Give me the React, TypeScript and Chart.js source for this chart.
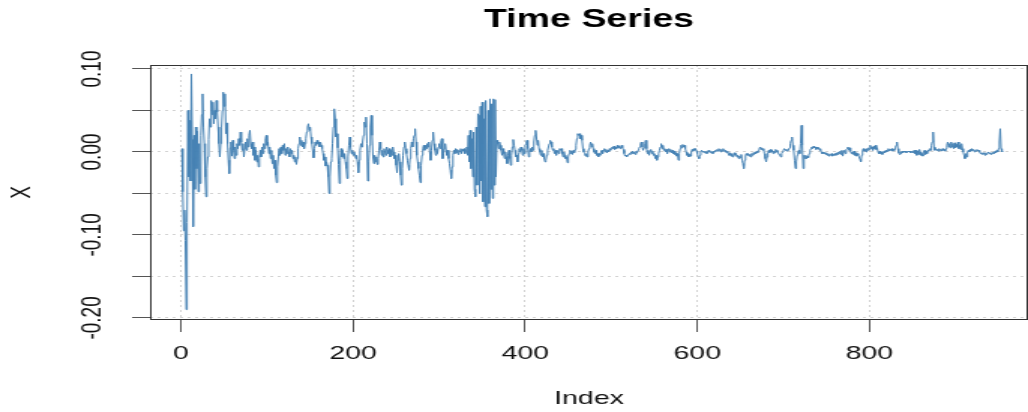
import { useEffect, useRef } from "react";
import { Chart, registerables } from "chart.js";

Chart.register(...registerables);

const chartTitle = "Time Series";
const xAxisTitle = "Index";
const yAxisTitle = "X";
const xTickValues = [0, 200, 400, 600, 800];
const yTickLabels = ["0.10", "0.00", "-0.10", "-0.20"];
const yTickLabelValues = [0.1, 0, -0.1, -0.2];

// series values, index 1..955
const seriesValues: number[] = [
  .004,-.048,-.095,-.07,-.107,-.19,-.085,.05,-.03,.038,
  -.035,.094,.015,-.09,.02,-.045,.03,-.02,.025,-.048,
  .01,-.038,.02,.045,.07,.03,.01,-.03,-.054,-.02,
  -.006,.015,.04,.03,.062,.045,.06,.034,.05,.04,
  .062,.048,.03,.01,-.006,.01,.03,.05,.072,.055,
  .07,.022,.035,.01,-.01,-.026,.005,.012,-.005,.014,
  .002,-.008,.006,-.004,.01,.004,.016,.008,.024,.012,
  .002,.01,-.006,.004,.012,.002,.016,.006,.02,.026,
  .01,.004,.012,-.004,.006,-.01,.002,-.012,-.004,-.018,
  -.008,.002,-.006,.006,-.002,.01,.004,.016,.02,.008,
  .012,-.002,.006,-.008,.002,-.014,-.004,-.02,-.01,-.028,
  -.037,-.018,-.006,.004,-.004,.006,-.002,.008,.002,.01,
  -.004,.004,-.002,.006,0,-.006,.004,-.002,.002,-.008,
  -.004,-.012,-.006,-.015,-.008,.004,.01,.018,.008,.014,
  .006,.012,.004,.01,.016,.024,.03,.034,.026,.03,
  .018,.01,.002,-.007,.004,.012,.008,.014,.01,.012,
  .006,.012,.008,.004,-.002,-.01,-.006,-.017,-.012,-.016,
  -.03,-.05,-.03,-.012,-.008,.01,.03,.052,.04,.018,
  .022,.005,-.015,-.038,-.01,.004,-.006,.002,-.008,-.002,
  -.012,-.02,-.032,-.006,.008,.018,.006,-.002,.002,-.004,
  0,-.002,-.008,-.004,-.012,-.025,-.01,.002,.01,.006,
  .012,.02,.036,.03,.042,.01,-.035,-.012,.008,.03,
  .044,.02,-.006,-.014,-.004,-.012,-.006,-.015,-.008,.002,
  .012,.004,-.004,.002,-.006,.004,0,-.004,.006,.002,
  -.002,.004,-.006,.002,-.004,.006,0,-.008,-.004,-.016,
  -.025,-.01,-.002,-.012,-.028,-.04,-.02,-.004,.006,.012,
  .004,-.002,-.01,-.016,-.022,-.008,.004,.012,.006,.016,
  .02,.028,.012,-.004,-.012,-.02,-.028,-.037,-.016,-.004,
  .004,.008,.002,.008,.004,.01,.006,.012,0,-.01,
  .002,.014,.024,.01,.002,-.004,.004,-.002,.006,.01,
  .004,.012,.016,-.008,-.002,.004,.01,.002,-.004,.002,
  -.008,-.014,-.022,-.032,-.018,-.004,.002,-.002,.004,-.001,
  .003,-.003,.002,0,.004,-.002,.003,.001,.004,-.002,
  .002,.006,-.004,.02,-.012,.026,-.02,.016,-.03,.024,
  -.045,-.054,.03,-.04,.046,.044,-.05,.055,-.035,.06,
  -.06,.04,-.066,.062,-.07,-.078,.05,-.062,.064,-.045,
  .058,-.056,.064,-.04,.063,-.03,.014,.01,.004,.012,
  .008,.002,-.004,.004,-.002,-.008,0,-.006,-.014,-.004,
  .002,-.008,-.016,-.004,.006,.015,.008,.002,-.006,-.004,
  -.012,-.002,.004,0,.006,.002,-.004,.004,-.002,.008,
  .01,.014,.004,-.006,.002,.004,0,.006,.002,.012,
  .02,.026,.018,.008,.014,.004,0,-.004,.002,-.006,
  -.002,-.008,-.012,-.01,-.004,.002,.006,.01,.014,.012,
  .006,.002,.004,-.002,.002,-.004,0,.002,-.002,.004,
  .002,.004,-.002,-.006,0,-.004,-.008,-.006,-.013,-.006,
  -.002,.002,-.002,.001,-.003,.002,-.001,.003,.008,.016,
  .022,.02,.022,.016,.02,.014,.004,0,-.002,-.005,
  -.002,-.006,0,.004,.008,.012,.006,.01,.004,0,
  -.002,.002,-.004,-.002,-.006,-.002,-.004,0,.002,-.002,
  .002,.004,0,.003,-.001,.002,0,.004,.002,.004,
  .006,.004,.007,.003,.006,.004,.008,.005,.007,.004,
  .006,.008,.005,.003,-.002,-.005,-.004,-.006,-.004,-.003,
  -.002,-.003,0,-.002,.001,-.002,0,-.003,.001,-.001,
  .002,.004,.006,.01,.012,.006,.002,.005,.01,.014,
  .004,-.002,.002,-.004,.001,.003,-.002,.001,-.004,-.002,
  -.008,-.004,-.01,-.006,-.002,.002,.006,.01,.004,.008,
  .002,.004,0,.003,-.002,.002,.004,0,.003,-.001,
  .002,-.002,.001,-.003,-.001,-.005,-.002,-.01,-.002,.004,
  .008,.005,.009,.006,.008,.004,0,-.004,-.002,-.006,
  -.003,-.005,0,.003,.001,.004,.002,.004,.001,-.002,
  -.006,-.008,-.004,0,.002,0,.001,-.001,.001,0,
  -.002,0,.002,0,-.001,.001,0,-.002,.001,0,
  .002,.001,.003,.001,.004,.002,0,.003,.001,.004,
  .002,0,.002,-.001,.001,-.002,-.004,-.001,-.005,-.002,
  -.006,-.003,-.001,-.004,-.002,-.006,-.004,-.008,-.005,-.007,
  -.003,-.01,-.014,-.02,-.01,-.004,-.002,-.004,-.002,-.005,
  -.003,-.006,-.002,-.004,-.001,-.003,0,-.002,.001,-.001,
  .002,.004,.006,.003,.005,.002,.004,-.002,-.008,-.012,
  -.006,-.001,.002,-.001,.003,0,.002,-.002,.001,-.001,
  .003,0,.002,-.001,-.003,-.004,-.006,-.002,0,.002,
  .004,.002,.003,.001,.003,.002,.005,.01,.014,.018,
  .008,.002,-.01,-.02,-.012,-.004,0,.002,-.002,.01,
  .032,.008,-.02,-.004,-.008,-.004,-.008,-.005,-.007,-.002,
  .002,.004,.006,.004,.007,.005,.006,.003,.006,.004,
  .005,.002,.004,0,-.002,0,-.002,-.001,-.003,-.001,
  -.004,-.002,-.005,-.003,-.004,-.002,-.005,-.003,-.004,-.002,
  -.004,-.001,-.003,0,-.002,.001,-.003,.002,-.005,0,
  .002,-.002,.003,.004,.006,.002,.005,.001,-.002,0,
  -.003,.001,-.004,-.001,-.005,-.002,-.004,-.006,-.009,-.012,
  -.004,.002,.004,.001,.003,0,.004,.002,.005,.003,
  .008,.004,.006,.002,.007,.004,.008,.003,.005,0,
  -.002,.001,-.002,0,-.003,-.001,.001,-.001,.002,0,
  .002,.004,.001,.003,.002,.004,.001,.003,.002,.005,
  .008,.012,.004,-.001,-.003,0,-.002,.001,-.001,.001,
  0,.001,-.001,0,.001,0,.001,-.001,0,.001,
  -.001,.002,-.002,.002,-.004,.001,-.003,.003,0,-.004,
  -.002,-.005,0,.002,-.003,.001,-.002,.002,.001,.004,
  .002,.008,.012,.024,.006,.002,.004,.002,.003,.001,
  .004,.002,.003,.001,.004,.002,.003,.001,.004,.008,
  .012,.006,.01,.005,.012,.006,.01,.004,.011,.005,
  .009,.006,.012,.004,.008,.003,.01,.004,0,-.004,
  -.008,-.002,-.006,0,.002,0,.003,.001,.004,.002,
  .003,0,.002,.001,.003,.001,.002,0,-.002,-.001,
  -.003,-.001,-.002,-.004,-.001,-.003,-.002,0,-.002,-.001,
  -.003,-.001,-.002,0,-.002,.001,-.001,.002,0,.004,
  .012,.028,.004,0,.001,
];

const FONT = '"Liberation Sans", Arial, Helvetica, sans-serif';
const CANVAS_W = 685;
const CANVAS_H = 412;

export default function App() {
  const ref = useRef<HTMLCanvasElement>(null);

  useEffect(() => {
    document.body.style.margin = "0";
    const canvas = ref.current;
    if (!canvas) return;
    const points = seriesValues.map((v, i) => ({ x: i + 1, y: v }));

    const framePlugin = {
      id: "rFrame",
      afterDraw(chart: any) {
        const { ctx, chartArea: a, scales } = chart;
        ctx.save();
        ctx.strokeStyle = "#333";
        ctx.lineWidth = 1;
        ctx.setLineDash([]);
        ctx.strokeRect(a.left + 0.5, a.top + 0.5, a.right - a.left - 1, a.bottom - a.top - 1);
        const ys = scales.y;
        ctx.fillStyle = "#111";
        ctx.font = `19px ${FONT}`;
        ctx.textAlign = "center";
        ctx.textBaseline = "alphabetic";
        yTickLabelValues.forEach((v, i) => {
          const py = ys.getPixelForValue(v);
          ctx.save();
          ctx.translate(a.left - 33.5, py);
          ctx.rotate(-Math.PI / 2);
          ctx.fillText(yTickLabels[i], 0, 0);
          ctx.restore();
        });
        ctx.restore();
      },
    };

    const chart = new Chart(canvas, {
      type: "line",
      data: {
        datasets: [
          {
            data: points,
            borderColor: "#4682b4",
            borderWidth: 1,
            pointRadius: 0,
            fill: false,
            tension: 0,
          },
        ],
      },
      options: {
        animation: false,
        responsive: false,
        devicePixelRatio: 1,
        events: [],
        layout: { padding: 0 },
        plugins: {
          legend: { display: false },
          tooltip: { enabled: false },
          title: {
            display: true,
            text: chartTitle,
            fullSize: false,
            color: "#000",
            font: { size: 25, weight: "bold", family: FONT },
            padding: { top: 5, bottom: 30 },
          },
        },
        scales: {
          x: {
            type: "linear",
            min: -36,
            max: 984.3,
            afterBuildTicks: (s: any) => {
              s.ticks = xTickValues.map((v) => ({ value: v }));
            },
            afterFit: (s: any) => {
              s.height = 92;
            },
            ticks: {
              color: "#111",
              font: { size: 19, family: FONT },
              padding: 10,
              maxRotation: 0,
              autoSkip: false,
            },
            grid: {
              color: "#d3d3d3",
              lineWidth: 1,
              drawTicks: true,
              tickLength: 12,
              tickColor: "#555",
              tickWidth: 1,
            },
            border: { display: false, dash: [2, 3] },
            title: {
              display: true,
              text: xAxisTitle,
              color: "#111",
              font: { size: 19, family: FONT },
              padding: { top: 0, bottom: 2 },
            },
          },
          y: {
            type: "linear",
            min: -0.2025,
            max: 0.1048,
            afterFit: (s: any) => {
              s.width = 100;
            },
            ticks: { display: false, stepSize: 0.05, includeBounds: false },
            grid: {
              color: "#d3d3d3",
              lineWidth: 1,
              drawTicks: true,
              tickLength: 12,
              tickColor: "#555",
              tickWidth: 1,
            },
            border: { display: false, dash: [2, 3] },
            title: {
              display: true,
              text: yAxisTitle,
              color: "#111",
              font: { size: 19, family: FONT },
              padding: { top: 3, bottom: 0 },
            },
          },
        },
      },
      plugins: [framePlugin],
    } as any);

    return () => chart.destroy();
  }, []);

  return (
    <div style={{ position: "absolute", left: 0, top: 0, width: 1028, height: 412 }}>
      <canvas
        ref={ref}
        width={CANVAS_W}
        height={CANVAS_H}
        style={{ width: "1028px", height: "412px", display: "block" }}
      />
    </div>
  );
}
